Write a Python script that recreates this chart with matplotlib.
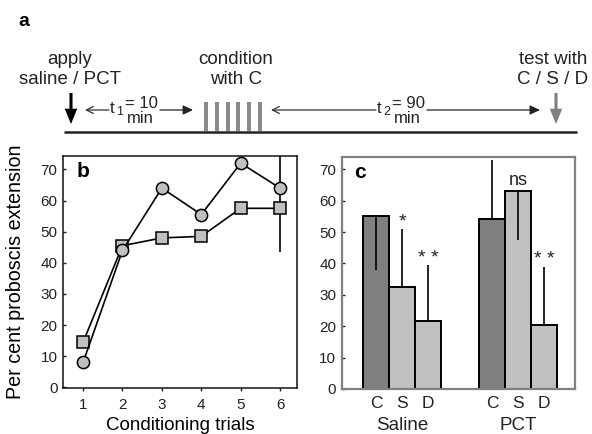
import numpy as np
import matplotlib
matplotlib.use('Agg')
import matplotlib.pyplot as plt

plt.rcParams['font.family'] = ['Liberation Sans', 'DejaVu Sans']
plt.rcParams['text.color'] = '#222222'
plt.rcParams['xtick.color'] = '#222222'
plt.rcParams['ytick.color'] = '#222222'

# Panel b: acquisition curves
trials = [1, 2, 3, 4, 5, 6]
circle_vals = [8, 44, 64, 55.5, 72, 64]
square_vals = [14.5, 45.5, 48, 48.5, 57.5, 57.5]
err_trial = 6
err_low, err_high = 43.5, 84

# Panel c: test responses
groups = ['Saline', 'PCT']
odours = ['C', 'S', 'D']
saline_vals = [55.2, 32.5, 21.7]
pct_vals = [54, 63.2, 20.4]
saline_err_end = [38, 51, 39.5]
pct_err_end = [73, 47.5, 39]
saline_sig = ['', '*', '* *']
pct_sig = ['', 'ns', '* *']

# Panel a: timeline labels
t1_text, t2_text = '10', '90'
n_cond_trials = 6

W, H = 592, 434
fig = plt.figure(figsize=(W / 100, H / 100), dpi=100)


def frac(left, top, right, bottom):
    return [left / W, 1 - bottom / H, (right - left) / W, (bottom - top) / H]


# ---------------- panel a ----------------
ax_a = fig.add_axes([0, 0, 1, 1])
ax_a.set_xlim(0, W)
ax_a.set_ylim(H, 0)
ax_a.axis('off')

ax_a.text(18, 22, 'a', fontsize=14, fontweight='bold', va='center', ha='left', color='black')
ax_a.plot([64, 577], [131.5, 131.5], color='#222222', lw=1.8, solid_capstyle='butt')

big_head = 'simple,head_width=0.9,head_length=1.1,tail_width=0.22'
ax_a.annotate('', xy=(71, 124), xytext=(71, 93),
              arrowprops=dict(arrowstyle=big_head, color='black', lw=0,
                              shrinkA=0, shrinkB=0))
ax_a.annotate('', xy=(556, 124), xytext=(556, 93),
              arrowprops=dict(arrowstyle=big_head, color='#808080', lw=0,
                              shrinkA=0, shrinkB=0))

cond_x = 205.7 + 10.9 * np.arange(n_cond_trials)
ax_a.vlines(cond_x, 101.7, 131, color='#8a8a8a', lw=2.9)

lab_fs = 13.5
ax_a.text(70, 60, 'apply', fontsize=lab_fs, ha='center', va='center')
ax_a.text(70, 79, 'saline / PCT', fontsize=lab_fs, ha='center', va='center')
ax_a.text(236, 60, 'condition', fontsize=lab_fs, ha='center', va='center')
ax_a.text(236, 79, 'with C', fontsize=lab_fs, ha='center', va='center')
ax_a.text(553, 60, 'test with', fontsize=lab_fs, ha='center', va='center')
ax_a.text(553, 79, 'C / S / D', fontsize=lab_fs, ha='center', va='center')


def interval(x0, x1, xt, label, sub):
    y = 110
    ax_a.annotate('', xy=(x0, y), xytext=(xt - 1, y),
                  arrowprops=dict(arrowstyle='->,head_width=0.25,head_length=0.5',
                                  color='#333333', lw=0.9, shrinkA=0, shrinkB=0))
    ax_a.annotate('', xy=(x1, y), xytext=(xt + 50, y),
                  arrowprops=dict(arrowstyle='-|>,head_width=0.28,head_length=0.6',
                                  color='#222222', lw=0.9, shrinkA=0, shrinkB=0))
    ax_a.text(xt, 108.5, 't', fontsize=12, ha='left', va='center')
    ax_a.text(xt + 6.5, 112, sub, fontsize=9, ha='left', va='center')
    ax_a.text(xt + 15, 110.8, '= ' + label, fontsize=12, ha='left', va='bottom')
    ax_a.text(xt + 17, 110.8, 'min', fontsize=12, ha='left', va='top')


interval(85, 193, 110, t1_text, '1')
interval(271, 540, 377, t2_text, '2')

# ---------------- panel b ----------------
ax_b = fig.add_axes(frac(63, 155.7, 297, 388.3))
ax_b.vlines(err_trial, err_low, err_high, color='black', lw=1.2, zorder=1)
ax_b.plot(trials, square_vals, color='black', lw=1.2, marker='s', ms=8,
          mfc='#c0c0c0', mec='black', mew=1.1, zorder=2)
ax_b.plot(trials, circle_vals, color='black', lw=1.2, marker='o', ms=8.8,
          mfc='#c0c0c0', mec='black', mew=1.1, zorder=3)
ax_b.set_xlim(0.49, 6.43)
ax_b.set_ylim(-0.3, 74.4)
ax_b.set_xticks(trials)
ax_b.set_yticks(np.arange(0, 71, 10))
ax_b.tick_params(axis='y', direction='in', length=2.5, width=1, labelsize=11, pad=4)
ax_b.tick_params(axis='x', direction='out', length=2, width=1, labelsize=11, pad=5)
for s in ax_b.spines.values():
    s.set_color('#111111')
    s.set_linewidth(1.1)
ax_b.text(0.06, 0.93, 'b', transform=ax_b.transAxes, fontsize=15, fontweight='bold',
          ha='left', va='center', color='black')
ax_b.set_xlabel('Conditioning trials', fontsize=13.5, va='center')
ax_b.xaxis.set_label_coords(0.5, -0.158)
ax_b.set_ylabel('Per cent proboscis extension', fontsize=14.2, va='center')
ax_b.yaxis.set_label_coords(-0.205, 0.5)

# ---------------- panel c ----------------
ax_c = fig.add_axes(frac(341.7, 156.7, 575, 389))
group_start = [0, 4.47]
bar_colors = ['#7f7f7f', '#c0c0c0', '#c0c0c0']
all_x = []
for g, name, vals, ends, sig in zip(group_start, groups, [saline_vals, pct_vals],
                                    [saline_err_end, pct_err_end], [saline_sig, pct_sig]):
    xs = g + np.arange(len(odours))
    all_x.extend(xs)
    ax_c.bar(xs, vals, width=1.0, color=bar_colors, edgecolor='black', lw=1.4, zorder=2)
    ax_c.vlines(xs, vals, ends, color='black', lw=1.2, zorder=3)
    for x, v, e, s in zip(xs, vals, ends, sig):
        if s == 'ns':
            ax_c.text(x, max(v, e) + 0.4, s, fontsize=13, ha='center', va='bottom')
        elif s:
            ax_c.text(x, max(v, e) - 0.5, s, fontsize=14, ha='center', va='bottom')
    ax_c.text(g + 1, -0.155, name, fontsize=13.5,
              ha='center', va='center', transform=ax_c.get_xaxis_transform())

ax_c.set_xlim(-1.336, 7.67)
ax_c.set_ylim(0, 74)
ax_c.set_xticks(all_x)
ax_c.set_xticklabels(odours * 2)
ax_c.set_yticks(np.arange(0, 71, 10))
ax_c.tick_params(axis='x', length=0, labelsize=12.5, pad=5)
ax_c.tick_params(axis='y', direction='in', length=2.5, width=1, labelsize=11, pad=4)
for s in ax_c.spines.values():
    s.set_color('#808080')
    s.set_linewidth(1.6)
ax_c.text(0.055, 0.93, 'c', transform=ax_c.transAxes, fontsize=15, fontweight='bold',
          ha='left', va='center', color='black')

fig.savefig('out.png', dpi=100)
